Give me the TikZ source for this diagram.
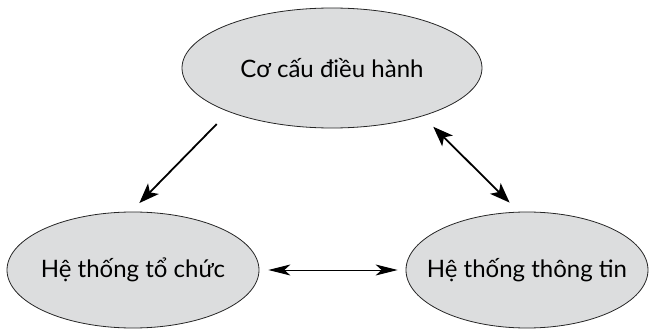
\documentclass[tikz,border=0pt]{standalone}
\usepackage{fontspec}
\setmainfont{Lato}
\usepackage{tikz}
\usepackage{color}
\definecolor{oval}{RGB}{220,221,222}
\usetikzlibrary{shapes,arrows.meta,positioning}
\tikzset{box/.style={ellipse, draw=black!85, fill=oval, line width=0.8pt, inner sep=0pt,
 font=\fontsize{24}{28}\selectfont}}
\tikzset{line/.style={draw, line width=1.8pt, -{Stealth[length=20pt, width=15pt, inset=5pt]}}}
\tikzset{dline/.style={draw, line width=1.8pt, {Stealth[length=20pt, width=15pt, inset=5pt]}-{Stealth[length=20pt, width=15pt, inset=5pt]}}}
\tikzset{hline/.style={draw, line width=0.9pt, {Stealth[length=22pt, width=11pt, inset=6pt]}-{Stealth[length=22pt, width=11pt, inset=6pt]}}}

\begin{document}
\begin{tikzpicture}[x=1pt, y=-1pt, on grid]
        \useasboundingbox (0,0) rectangle (649,329);
        \node[box, minimum width=300pt, minimum height=120pt] (dhanh) at (332,68) {\makebox[0pt]{Cơ cấu điều hành}};
        \node[box, minimum width=252pt, minimum height=116pt, below left=202pt and 199pt of dhanh] (tchuc) {\makebox[0pt]{Hệ thống tổ chức}};
        \node[box, minimum width=242pt, minimum height=116pt, below right=202pt and 195pt of dhanh] (ttin) {\makebox[0pt]{Hệ thống thông tin}};

        \path[line, shorten <=17pt, shorten >=12pt] (dhanh.203) -- (tchuc.92);
        \path[dline, shorten <=15pt, shorten >=13pt] (dhanh.332) -- (ttin.98);
        \path[hline, shorten <=9pt, shorten >=8pt] (tchuc.east) -- (ttin.west);
      \end{tikzpicture}
\end{document}
